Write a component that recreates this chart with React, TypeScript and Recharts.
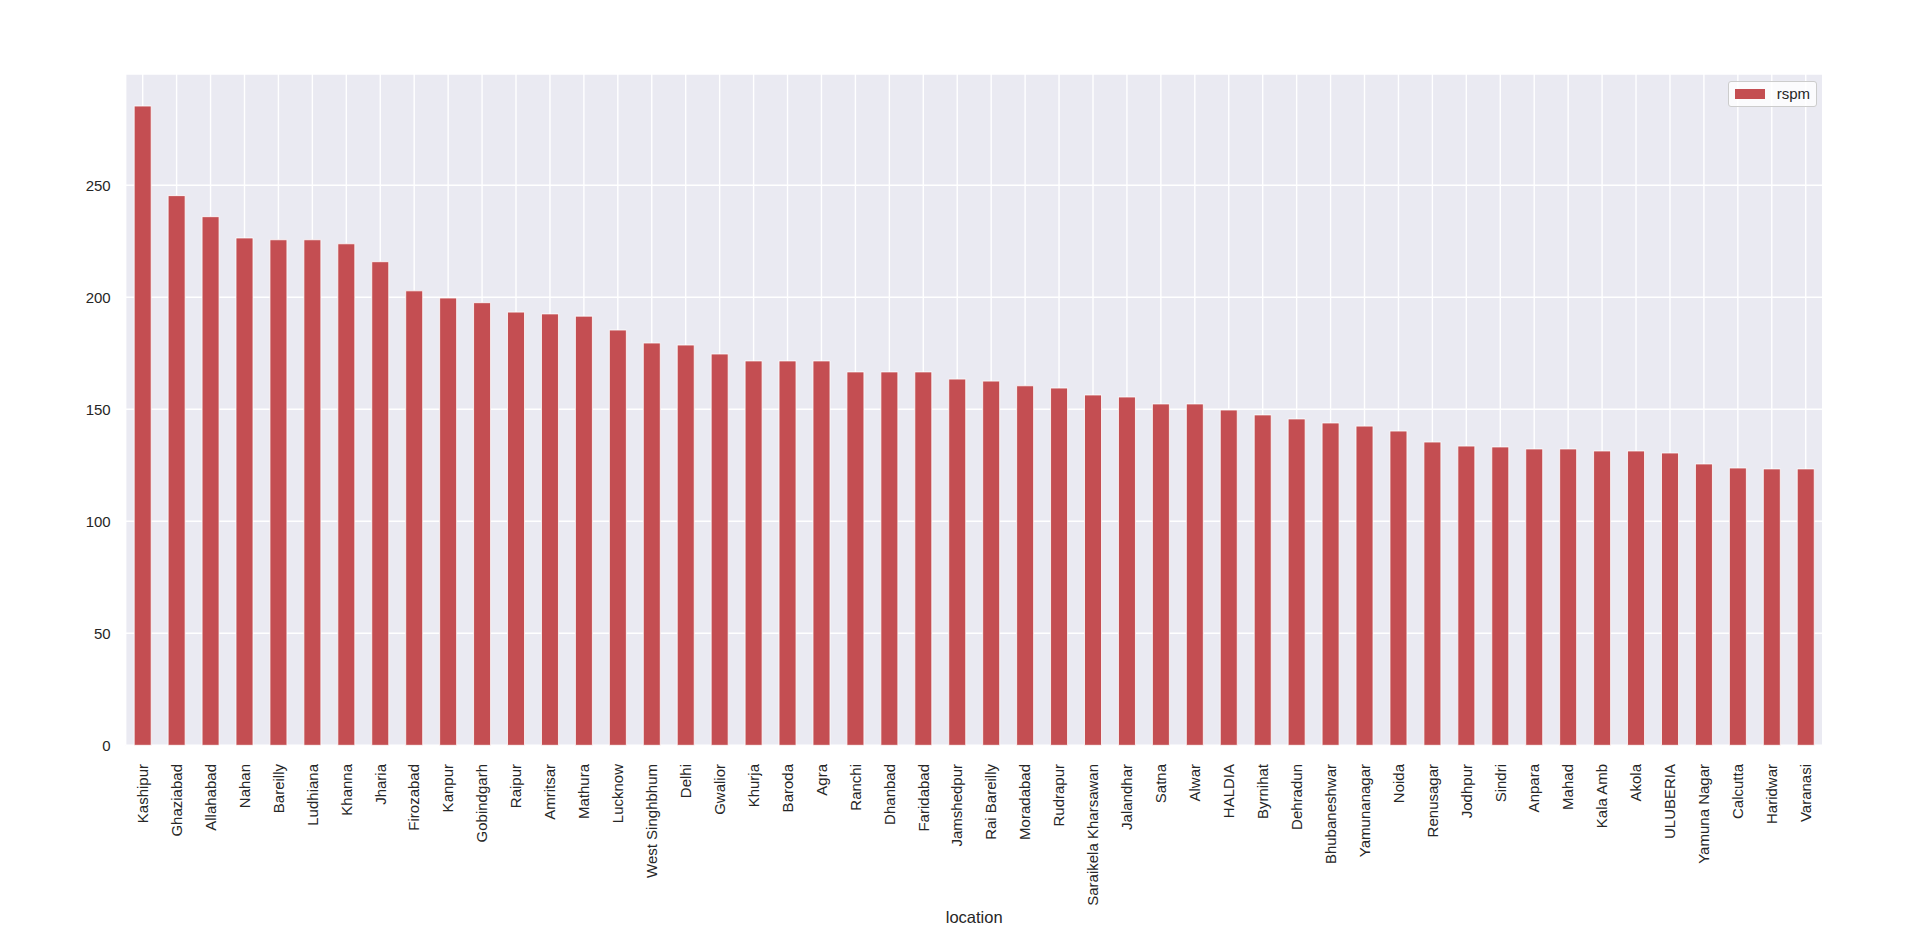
import React from 'react';
import { BarChart, Bar, XAxis, YAxis, CartesianGrid, Legend } from 'recharts';

// rspm by location, sorted descending
const locations = [
  'Kashipur', 'Ghaziabad', 'Allahabad', 'Nahan', 'Bareilly', 'Ludhiana', 'Khanna', 'Jharia',
  'Firozabad', 'Kanpur', 'Gobindgarh', 'Raipur', 'Amritsar', 'Mathura', 'Lucknow',
  'West Singhbhum', 'Delhi', 'Gwalior', 'Khurja', 'Baroda', 'Agra', 'Ranchi', 'Dhanbad',
  'Faridabad', 'Jamshedpur', 'Rai Bareilly', 'Moradabad', 'Rudrapur', 'Saraikela Kharsawan',
  'Jalandhar', 'Satna', 'Alwar', 'HALDIA', 'Byrnihat', 'Dehradun', 'Bhubaneshwar',
  'Yamunanagar', 'Noida', 'Renusagar', 'Jodhpur', 'Sindri', 'Anpara', 'Mahad', 'Kala Amb',
  'Akola', 'ULUBERIA', 'Yamuna Nagar', 'Calcutta', 'Haridwar', 'Varanasi',
];

const rspm = [
  285.4, 245.4, 236.0, 226.5, 225.7, 225.7, 223.9, 215.9,
  202.9, 199.7, 197.6, 193.4, 192.6, 191.6, 185.4,
  179.6, 178.7, 174.7, 171.6, 171.6, 171.6, 166.7, 166.7,
  166.7, 163.5, 162.6, 160.5, 159.5, 156.4,
  155.5, 152.4, 152.4, 149.7, 147.5, 145.7, 143.9,
  142.5, 140.3, 135.4, 133.6, 133.2, 132.3, 132.3, 131.4,
  131.4, 130.5, 125.6, 123.8, 123.4, 123.4,
];

const yTicks = [0, 50, 100, 150, 200, 250];

const data = locations.map((location, i) => ({ location, rspm: rspm[i] }));

const FONT = '"Liberation Sans", Arial, sans-serif';
const TEXT = '#262626';
const RED = '#C44E52';

const XTick = (props: any) => {
  const { x, y, payload } = props;
  return (
    <g transform={`translate(${x},${y + 16.7})`}>
      <text
        transform="rotate(-90)"
        textAnchor="end"
        dy="0.35em"
        fontSize={15}
        fontFamily={FONT}
        fill={TEXT}
      >
        {payload.value}
      </text>
    </g>
  );
};

const LegendBox = () => (
  <div
    style={{
      position: 'relative',
      width: 89,
      height: 26,
      boxSizing: 'border-box',
      background: 'rgba(255,255,255,0.8)',
      border: '1px solid #cccccc',
      borderRadius: 3,
      fontFamily: FONT,
      fontSize: 15,
      color: TEXT,
    }}
  >
    <div style={{ position: 'absolute', left: 6, top: 6.5, width: 30.5, height: 10, background: RED }} />
    <div style={{ position: 'absolute', left: 48, top: 3, lineHeight: '17px' }}>rspm</div>
  </div>
);

const App = () => (
  <div style={{ position: 'absolute', left: 0, top: 0, width: 1920, height: 927, background: '#fff' }}>
    <BarChart
      width={1920}
      height={927}
      data={data}
      margin={{ top: 74, right: 97.3, bottom: 0, left: 65.7 }}
      barCategoryGap="25%"
    >
      <CartesianGrid fill="#EAEAF2" stroke="#ffffff" strokeWidth={1.4} />
      <XAxis
        dataKey="location"
        interval={0}
        height={181.7}
        tickLine={false}
        axisLine={false}
        tickSize={0}
        tick={<XTick />}
        label={{
          value: 'location',
          position: 'insideBottom',
          offset: 4.5,
          fontSize: 16.5,
          fontFamily: FONT,
          fill: TEXT,
        }}
      />
      <YAxis
        type="number"
        domain={[0, 299.7]}
        ticks={yTicks}
        width={60}
        tickLine={false}
        axisLine={false}
        tickSize={0}
        tickMargin={15}
        tick={{ fontSize: 15, fontFamily: FONT, fill: TEXT }}
      />
      <Legend
        layout="vertical"
        align="center"
        verticalAlign="middle"
        content={<LegendBox />}
        wrapperStyle={{ left: 1727.7, top: 81.3, width: 89, height: 26 }}
      />
      <Bar dataKey="rspm" fill={RED} stroke="#ffffff" strokeWidth={0.8} isAnimationActive={false} />
    </BarChart>
  </div>
);

export default App;
